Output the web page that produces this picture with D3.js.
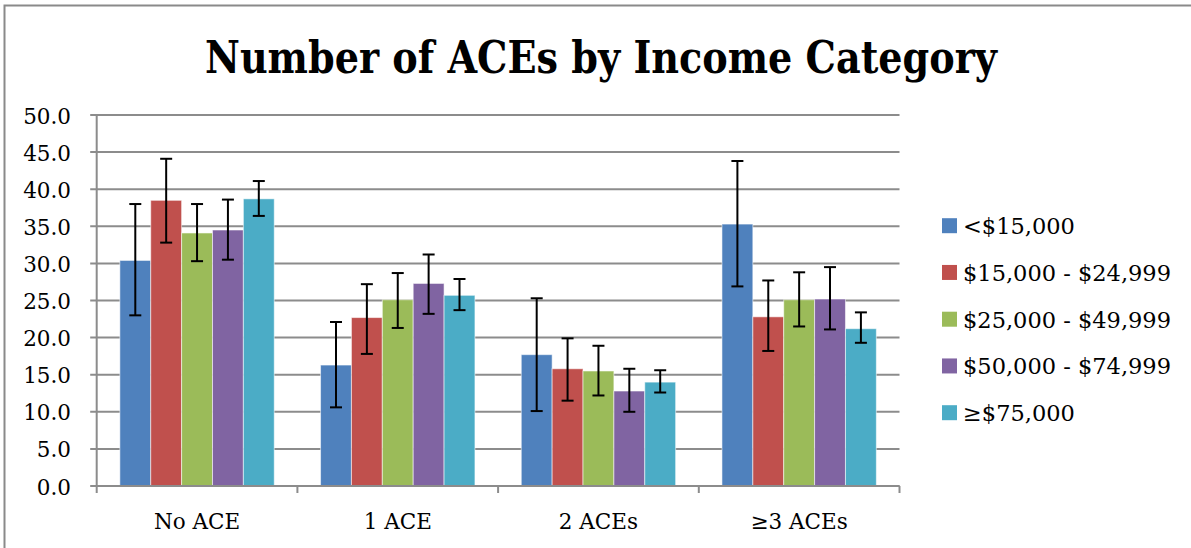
<!DOCTYPE html>
<html>
<head>
<meta charset="utf-8">
<script src="https://cdn.jsdelivr.net/npm/d3@7"></script>
<style>
  html, body { margin: 0; padding: 0; background: #fff; }
  svg { display: block; }
</style>
</head>
<body>
<svg id="chart" width="1191" height="548"></svg>
<script>
const categories = ["No ACE", "1 ACE", "2 ACEs", "≥3 ACEs"];
const seriesNames = ["<$15,000", "$15,000 - $24,999", "$25,000 - $49,999", "$50,000 - $74,999", "≥$75,000"];
const seriesColors = ["#4F81BD", "#C0504D", "#9BBB59", "#8064A2", "#4BACC6"];
// values per series across categories
const values = [
  [30.4, 16.3, 17.7, 35.3],
  [38.5, 22.7, 15.8, 22.8],
  [34.1, 25.1, 15.5, 25.1],
  [34.5, 27.3, 12.8, 25.2],
  [38.7, 25.7, 14.0, 21.2]
];
const errLower = [
  [23.0, 10.6, 10.1, 26.9],
  [32.8, 17.8, 11.5, 18.2],
  [30.3, 21.3, 12.2, 21.5],
  [30.5, 23.2, 10.0, 21.1],
  [36.4, 23.7, 12.6, 19.3]
];
const errUpper = [
  [38.0, 22.1, 25.3, 43.8],
  [44.1, 27.2, 19.9, 27.7],
  [38.0, 28.7, 18.9, 28.8],
  [38.6, 31.2, 15.8, 29.5],
  [41.1, 27.9, 15.6, 23.4]
];
const yTicks = [0, 5, 10, 15, 20, 25, 30, 35, 40, 45, 50];
const title = "Number of ACEs by Income Category";

const svg = d3.select("#chart");
const font = "'DejaVu Serif', serif";
const gridColor = "#8c8c8c";

const plot = { left: 96.7, right: 899.5, top: 115, bottom: 486 };

// Outer frame
svg.append("path")
  .attr("d", "M4.5,548 L4.5,5.5 L1191,5.5")
  .attr("fill", "none").attr("stroke", "#8a8a8a").attr("stroke-width", 2);

// Title
svg.append("text")
  .attr("x", 601).attr("y", 72.7)
  .attr("text-anchor", "middle")
  .attr("font-family", font).attr("font-weight", "bold").attr("font-size", 44)
  .attr("textLength", 792).attr("lengthAdjust", "spacingAndGlyphs")
  .attr("fill", "#000")
  .text(title);

const x0 = d3.scaleBand().domain(categories).range([plot.left, plot.right]).paddingInner(0).paddingOuter(0);
const groupInner = 5 * x0.bandwidth() / (5 + 1.5);
const x1 = d3.scaleBand().domain(d3.range(seriesNames.length))
  .range([(x0.bandwidth() - groupInner) / 2, (x0.bandwidth() + groupInner) / 2]).padding(0);
const y = d3.scaleLinear().domain([0, 50]).range([plot.bottom, plot.top]);

// Gridlines + y ticks
const yAxisG = svg.append("g");
yAxisG.selectAll("line.grid").data(yTicks).join("line")
  .attr("class", "grid")
  .attr("x1", plot.left - 6.5).attr("x2", plot.right)
  .attr("y1", d => y(d)).attr("y2", d => y(d))
  .attr("stroke", gridColor).attr("stroke-width", 2);
yAxisG.selectAll("text").data(yTicks).join("text")
  .attr("x", 71).attr("y", d => y(d) + 8.5)
  .attr("text-anchor", "end")
  .attr("font-family", font).attr("font-size", 21.5).attr("fill", "#000")
  .text(d => d3.format(".1f")(d));

// Y axis line
svg.append("line")
  .attr("x1", plot.left).attr("x2", plot.left)
  .attr("y1", plot.top).attr("y2", plot.bottom)
  .attr("stroke", gridColor).attr("stroke-width", 2);

// Bars
const groups = svg.append("g").selectAll("g").data(categories).join("g")
  .attr("transform", c => `translate(${x0(c)},0)`);
groups.each(function(c, ci) {
  const g = d3.select(this);
  seriesNames.forEach((s, si) => {
    g.append("rect")
      .attr("x", x1(si)).attr("width", x1.bandwidth())
      .attr("y", y(values[si][ci])).attr("height", y(0) - y(values[si][ci]))
      .attr("fill", seriesColors[si])
      .attr("stroke", "rgba(255,255,255,0.55)").attr("stroke-width", 1);
  });
});

// X axis line + ticks (category boundaries)
svg.append("line")
  .attr("x1", plot.left).attr("x2", plot.right)
  .attr("y1", plot.bottom).attr("y2", plot.bottom)
  .attr("stroke", gridColor).attr("stroke-width", 2);
const bounds = categories.map(c => x0(c)).concat([plot.right]);
svg.append("g").selectAll("line").data(bounds).join("line")
  .attr("x1", d => d).attr("x2", d => d)
  .attr("y1", plot.bottom).attr("y2", plot.bottom + 7)
  .attr("stroke", gridColor).attr("stroke-width", 2);
svg.append("g").selectAll("text").data(categories).join("text")
  .attr("x", c => x0(c) + x0.bandwidth() / 2).attr("y", 529)
  .attr("text-anchor", "middle")
  .attr("font-family", font).attr("font-size", 21.5).attr("fill", "#000")
  .text(c => c);

// Error bars
groups.each(function(c, ci) {
  const g = d3.select(this);
  seriesNames.forEach((s, si) => {
    const cx = x1(si) + x1.bandwidth() / 2;
    const lo = y(errLower[si][ci]), hi = y(errUpper[si][ci]);
    const eb = g.append("g").attr("stroke", "#000").attr("stroke-width", 2);
    eb.append("line").attr("x1", cx).attr("x2", cx).attr("y1", lo).attr("y2", hi);
    eb.append("line").attr("x1", cx - 6).attr("x2", cx + 6).attr("y1", lo).attr("y2", lo);
    eb.append("line").attr("x1", cx - 6).attr("x2", cx + 6).attr("y1", hi).attr("y2", hi);
  });
});

// Legend
const legend = svg.append("g").selectAll("g").data(seriesNames).join("g")
  .attr("transform", (d, i) => `translate(942, ${225.7 + i * 46.75})`);
legend.append("rect")
  .attr("x", 0).attr("y", -7.5).attr("width", 15).attr("height", 15)
  .attr("fill", (d, i) => seriesColors[i]);
legend.append("text")
  .attr("x", 21).attr("y", 8.5)
  .attr("font-family", font).attr("font-size", 22.5).attr("fill", "#000")
  .text(d => d);
</script>
</body>
</html>
